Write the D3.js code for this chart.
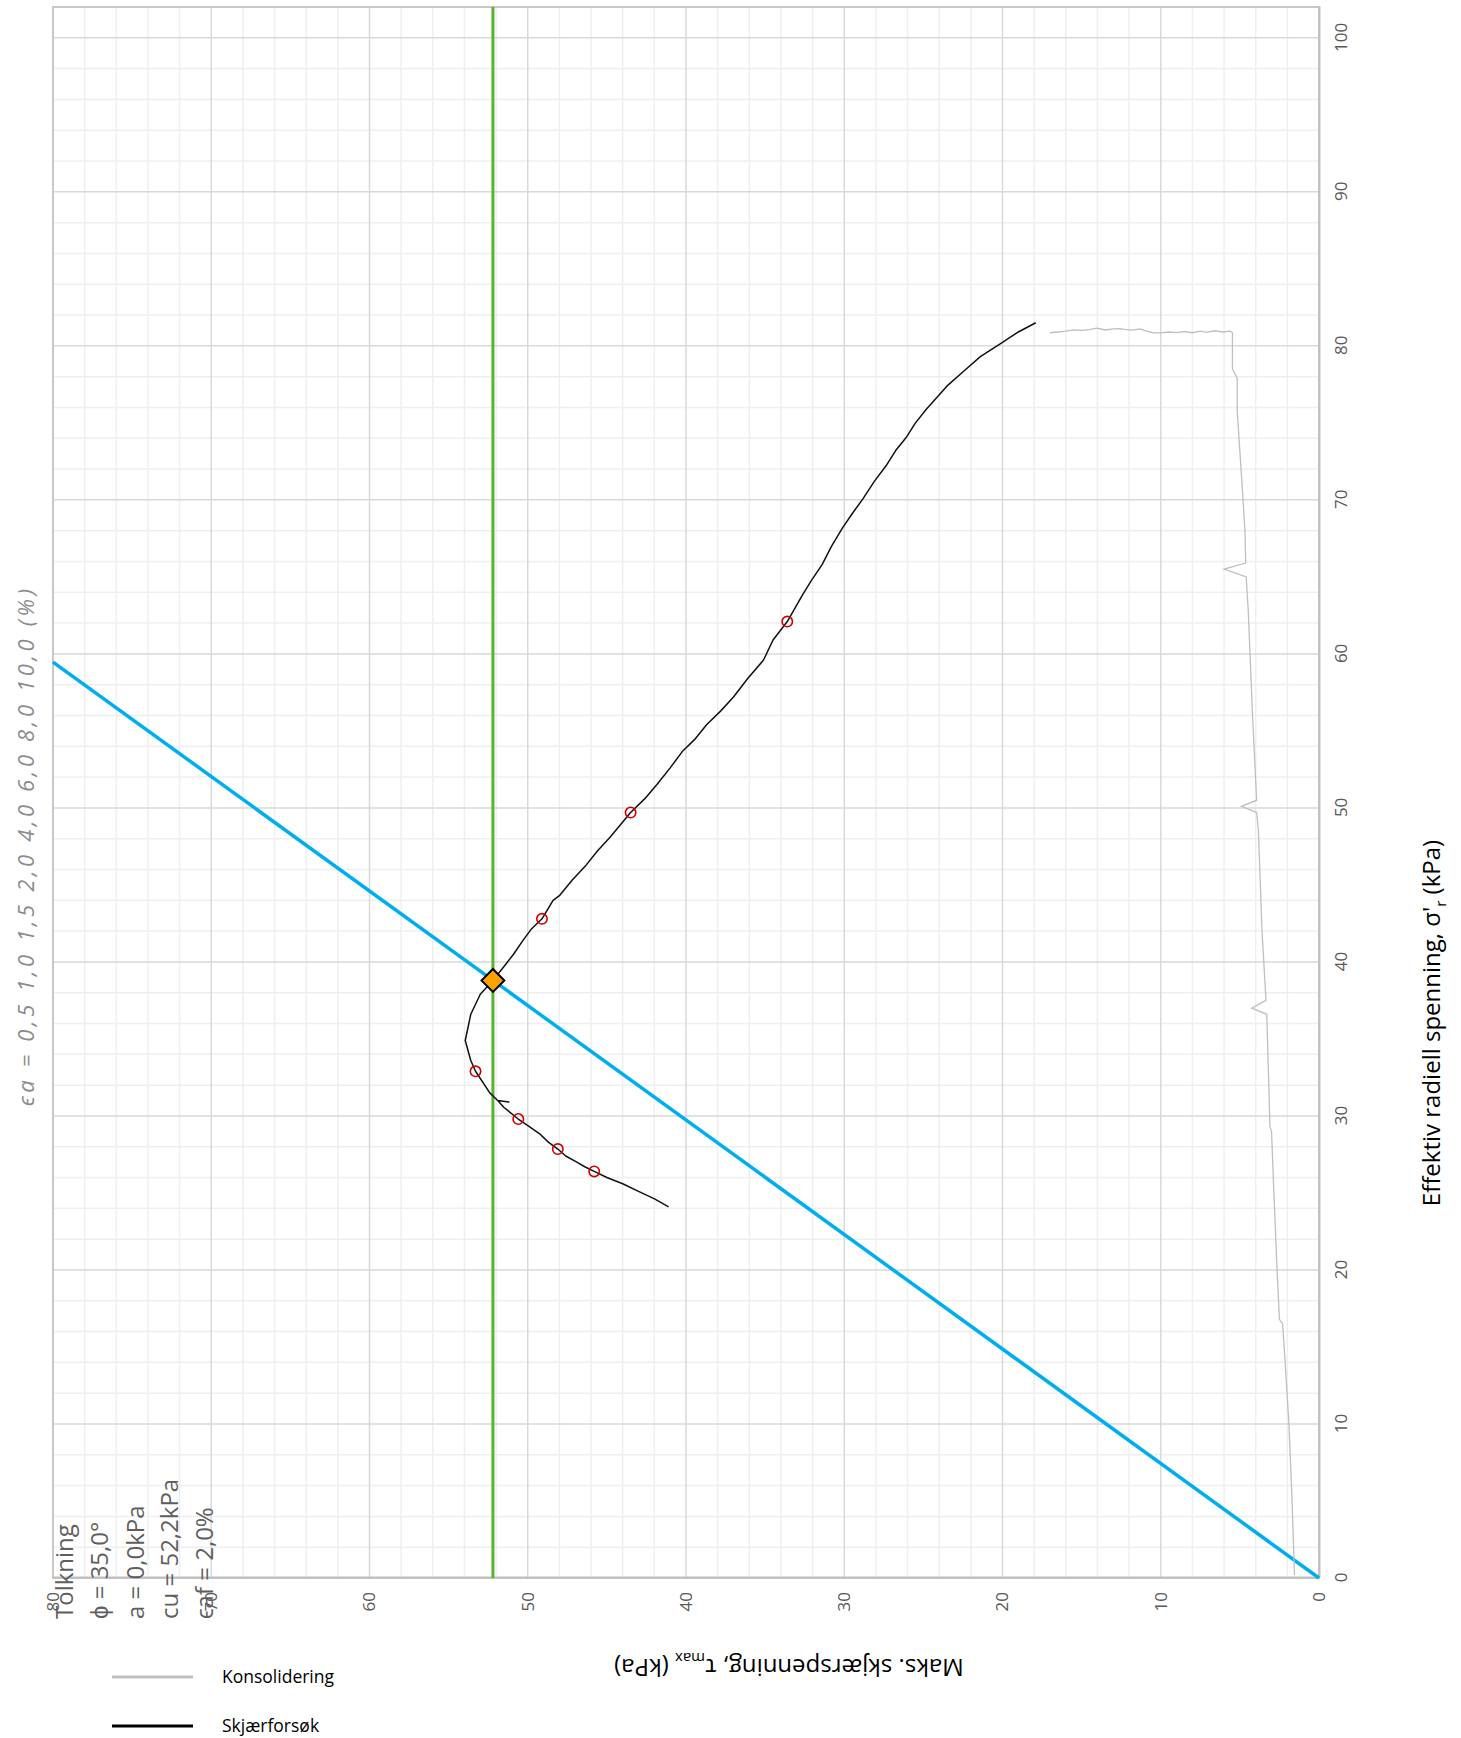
<!DOCTYPE html>
<html>
<head>
<meta charset="utf-8">
<script src="https://cdn.jsdelivr.net/npm/d3@7"></script>
<style>
  body { margin: 0; background: #fff; }
  text { font-family: 'Open Sans', sans-serif; }
</style>
</head>
<body>
<svg id="chart"></svg>
<script>
// axis ticks
const sigmaTicks = [0, 10, 20, 30, 40, 50, 60, 70, 80, 90, 100];
const tauTicks = [0, 10, 20, 30, 40, 50, 60, 70, 80];

// [sigma'r, tau] pairs
const consolidation = [
  [0.2, 1.55], [5, 1.7], [10, 1.9], [15, 2.2], [16.5, 2.3], [16.8, 2.5], [20, 2.65],
  [25, 2.85], [29, 3.0], [29.3, 3.1], [33, 3.2], [35.5, 3.27], [36.6, 3.3], [37.0, 4.25],
  [37.5, 3.35], [42, 3.6], [48.5, 3.83], [49.7, 3.94], [50.1, 4.9], [50.5, 3.94], [56, 4.2],
  [62.8, 4.47], [65.0, 4.6], [65.5, 6.0], [65.9, 4.63], [68, 4.68], [70, 4.8], [75.8, 5.17],
  [77.9, 5.17], [78.5, 5.47], [80.85, 5.47], [80.95, 5.6], [80.9, 6.1], [80.98, 6.6],
  [80.88, 7.1], [80.95, 7.5], [80.85, 8.0], [80.93, 8.5], [80.86, 9.0], [80.9, 9.5],
  [80.84, 10.0], [80.85, 10.5], [80.95, 10.9], [81.1, 11.3], [81.02, 11.8], [81.05, 12.2],
  [81.12, 12.6], [81.1, 13.0], [81.03, 13.5], [81.15, 14.05], [81.05, 14.5], [81.0, 15.0],
  [81.04, 15.5], [80.95, 16.0], [80.9, 16.5], [80.85, 17.0]
];

const shearTest = [
  [81.5, 17.9], [80.9, 19.0], [80.2, 20.05], [79.3, 21.4], [78.4, 22.4], [77.4, 23.5],
  [75.9, 24.8], [75.0, 25.5], [74.1, 26.05], [73.2, 26.75], [72.3, 27.3], [71.2, 28.1],
  [70.1, 28.8], [69.1, 29.5], [68.2, 30.1], [67.0, 30.8], [65.8, 31.4], [64.8, 32.05],
  [63.9, 32.6], [62.1, 33.6], [60.9, 34.5], [59.6, 35.1], [58.4, 36.1], [57.2, 37.0],
  [56.3, 37.8], [55.4, 38.7], [54.5, 39.4], [53.7, 40.2], [52.6, 41.0], [51.5, 41.85],
  [50.6, 42.6], [49.7, 43.5], [48.1, 44.8], [47.2, 45.6], [46.3, 46.3], [45.3, 47.2],
  [44.3, 48.0], [44.0, 48.4], [42.8, 49.1], [42.1, 49.8], [41.4, 50.3], [40.5, 50.9],
  [39.7, 51.5], [38.8, 52.2], [37.9, 53.0], [36.6, 53.6], [34.9, 53.95], [33.6, 53.6],
  [32.9, 53.3], [31.5, 52.4], [31.0, 51.9], [30.9, 51.2], [31.0, 51.9], [30.55, 51.5],
  [29.8, 50.6], [29.3, 49.9], [28.8, 49.2], [28.3, 48.7], [27.85, 48.1], [27.4, 47.6],
  [27.0, 46.9], [26.7, 46.4], [26.4, 45.8], [26.0, 45.0], [25.6, 44.0], [25.1, 43.0],
  [24.6, 41.96], [24.1, 41.1]
];

// strain markers along the shear path
const strainLabels = ['0,5', '1,0', '1,5', '2,0', '4,0', '6,0', '8,0', '10,0'];
const strainPoints = [
  [62.1, 33.6], [49.7, 43.5], [42.8, 49.1], [38.8, 52.2],
  [32.9, 53.3], [29.8, 50.6], [27.85, 48.1], [26.4, 45.8]
];

// interpretation
const interpretation = ['Tolkning', 'ϕ = 35,0°', 'a = 0,0kPa', 'cu = 52,2kPa', 'ϵaf = 2,0%'];
const failurePoint = [38.8, 52.2];
const cu = 52.2;
const failureLine = [[0, 0], [59.47, 80]];

const width = 1461;
const height = 1738;
const originX = 53;
const originY = 1578;
const plotW = 1571; // sigma direction (screen up)
const plotH = 1266; // tau direction (screen left to right)

const svg = d3.select('#chart')
  .attr('width', width)
  .attr('height', height);

// the chart is drawn normally and turned 90 degrees counterclockwise
const g = svg.append('g')
  .attr('transform', `translate(${originX},${originY}) rotate(-90)`);

const x = d3.scaleLinear().domain([0, 102]).range([0, plotW]);
const y = d3.scaleLinear().domain([0, 80]).range([plotH, 0]);

// grid
const minorX = d3.range(0, 103, 2).filter(d => d % 10 !== 0);
const minorY = d3.range(0, 81, 2).filter(d => d % 10 !== 0);

g.selectAll('.minx').data(minorX).enter().append('line')
  .attr('x1', d => x(d)).attr('x2', d => x(d))
  .attr('y1', 0).attr('y2', plotH)
  .attr('stroke', '#efefef').attr('stroke-width', 1.5);
g.selectAll('.miny').data(minorY).enter().append('line')
  .attr('y1', d => y(d)).attr('y2', d => y(d))
  .attr('x1', 0).attr('x2', plotW)
  .attr('stroke', '#efefef').attr('stroke-width', 1.5);
g.selectAll('.majx').data(sigmaTicks).enter().append('line')
  .attr('x1', d => x(d)).attr('x2', d => x(d))
  .attr('y1', 0).attr('y2', plotH)
  .attr('stroke', '#d9d9d9').attr('stroke-width', 1.5);
g.selectAll('.majy').data(tauTicks).enter().append('line')
  .attr('y1', d => y(d)).attr('y2', d => y(d))
  .attr('x1', 0).attr('x2', plotW)
  .attr('stroke', '#d9d9d9').attr('stroke-width', 1.5);

g.append('rect')
  .attr('width', plotW).attr('height', plotH)
  .attr('fill', 'none').attr('stroke', '#c8c8c8').attr('stroke-width', 2);

// axes
const xAxis = d3.axisBottom(x).tickValues(sigmaTicks).tickSize(0).tickPadding(16);
const yAxis = d3.axisLeft(y).tickValues(tauTicks).tickSize(0).tickPadding(14);

g.append('g')
  .attr('transform', `translate(0,${plotH})`)
  .call(xAxis)
  .call(s => s.select('.domain').attr('stroke', '#bfbfbf').attr('stroke-width', 2))
  .selectAll('text')
  .attr('font-family', 'Open Sans').attr('font-size', 17).attr('fill', '#595959');

g.append('g')
  .call(yAxis)
  .call(s => s.select('.domain').attr('stroke', '#bfbfbf').attr('stroke-width', 2))
  .selectAll('text')
  .attr('font-family', 'Open Sans').attr('font-size', 17).attr('fill', '#595959');

const line = d3.line().x(d => x(d[0])).y(d => y(d[1]));

// cu line
g.append('path')
  .datum([[0, cu], [102, cu]])
  .attr('d', line)
  .attr('stroke', '#57b42f').attr('stroke-width', 3).attr('fill', 'none');

// failure line
g.append('path')
  .datum(failureLine)
  .attr('d', line)
  .attr('stroke', '#00aeef').attr('stroke-width', 3.5).attr('fill', 'none');

g.append('path')
  .datum(consolidation)
  .attr('d', line)
  .attr('stroke', '#bfbfbf').attr('stroke-width', 1.3).attr('fill', 'none');

g.append('path')
  .datum(shearTest)
  .attr('d', line)
  .attr('stroke', '#111').attr('stroke-width', 1.5).attr('fill', 'none')
  .attr('stroke-linejoin', 'round');

g.selectAll('.strain').data(strainPoints).enter().append('circle')
  .attr('cx', d => x(d[0])).attr('cy', d => y(d[1]))
  .attr('r', 5.2)
  .attr('fill', 'none').attr('stroke', '#d00000').attr('stroke-width', 1.6);

g.append('path')
  .attr('d', d3.symbol().type(d3.symbolSquare).size(260))
  .attr('transform', `translate(${x(failurePoint[0])},${y(failurePoint[1])}) rotate(45)`)
  .attr('fill', '#ffa200').attr('stroke', '#000').attr('stroke-width', 2);

// axis titles
const sTitle = svg.append('text')
  .attr('x', 1440).attr('y', 1023)
  .attr('transform', 'rotate(-90,1440,1023)')
  .attr('text-anchor', 'middle')
  .attr('font-size', 24).attr('fill', '#000');
sTitle.append('tspan').text("Effektiv radiell spenning, σ'");
sTitle.append('tspan').attr('font-size', 15).attr('dy', 6).text('r');
sTitle.append('tspan').attr('dy', -6).text(' (kPa)');

const tTitle = svg.append('text')
  .attr('x', 789).attr('y', 1659)
  .attr('transform', 'rotate(180,789,1659)')
  .attr('text-anchor', 'middle')
  .attr('font-size', 24).attr('fill', '#000');
tTitle.append('tspan').text('Maks. skjærspenning, τ');
tTitle.append('tspan').attr('font-size', 15).attr('dy', 6).text('max');
tTitle.append('tspan').attr('dy', -6).text(' (kPa)');

// strain annotation
svg.append('text')
  .attr('x', 34).attr('y', 1106)
  .attr('transform', 'rotate(-90,34,1106)')
  .attr('font-size', 22).attr('font-style', 'italic').attr('fill', '#8c8c8c')
  .attr('textLength', 517).attr('lengthAdjust', 'spacing')
  .text('ϵa = ' + strainLabels.join(' ') + ' (%)');

// interpretation block
const infoX = [73, 108, 144, 178, 213];
svg.selectAll('.info').data(interpretation).enter().append('text')
  .attr('x', (d, i) => infoX[i]).attr('y', 1619)
  .attr('transform', (d, i) => `rotate(-90,${infoX[i]},1619)`)
  .attr('font-size', 24).attr('fill', '#5f5f5f')
  .text(d => d);

// legend
const legend = [
  { name: 'Konsolidering', color: '#bfbfbf', y: 1677 },
  { name: 'Skjærforsøk', color: '#000', y: 1726 }
];
const lg = svg.selectAll('.legend').data(legend).enter().append('g');
lg.append('line')
  .attr('x1', 112).attr('x2', 193)
  .attr('y1', d => d.y).attr('y2', d => d.y)
  .attr('stroke', d => d.color).attr('stroke-width', 3);
lg.append('text')
  .attr('x', 222).attr('y', d => d.y + 6)
  .attr('font-size', 17.5).attr('fill', '#000')
  .text(d => d.name);
</script>
</body>
</html>
